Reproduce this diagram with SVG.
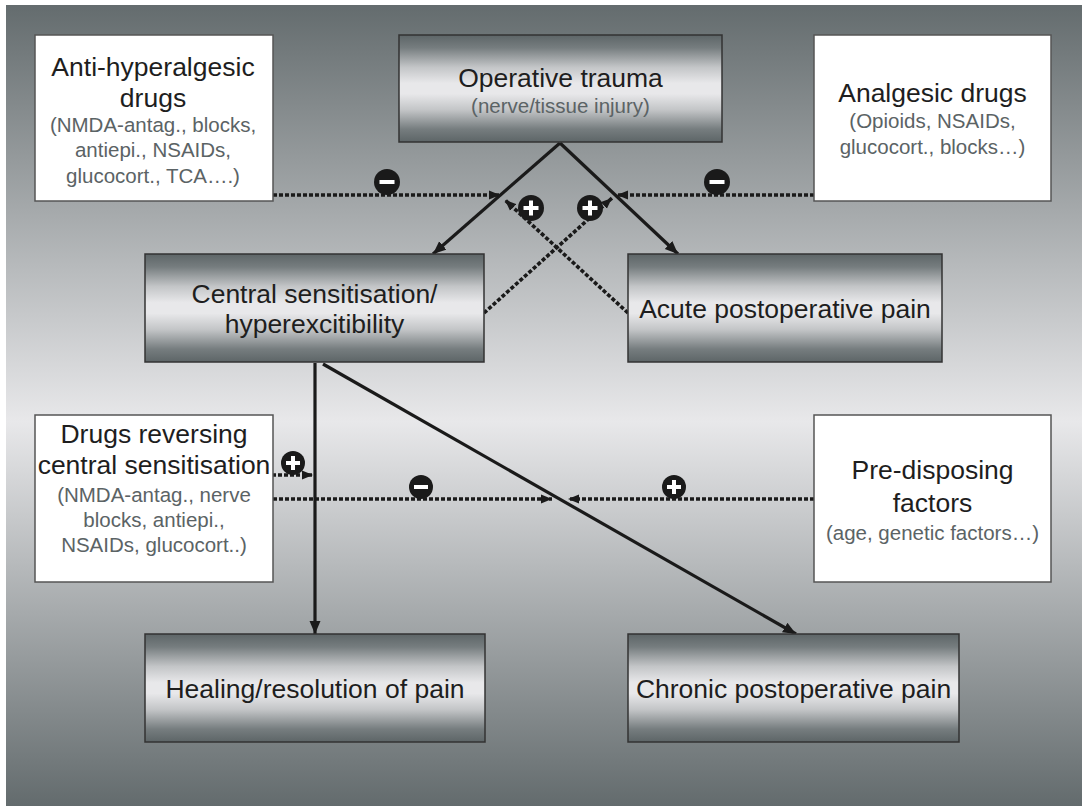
<svg xmlns="http://www.w3.org/2000/svg" width="1089" height="806" viewBox="0 0 1089 806">
<defs>
<linearGradient id="bg" x1="0" y1="0" x2="0" y2="1">
<stop offset="0" stop-color="#646c6e"/>
<stop offset="0.52" stop-color="#e8e8ea"/>
<stop offset="1" stop-color="#636b6d"/>
</linearGradient>
<linearGradient id="boxg" x1="0" y1="0" x2="0" y2="1">
<stop offset="0" stop-color="#5d6567"/>
<stop offset="0.12" stop-color="#767d7f"/>
<stop offset="0.3" stop-color="#c3c5c7"/>
<stop offset="0.45" stop-color="#e8e8ea"/>
<stop offset="0.55" stop-color="#e8e8ea"/>
<stop offset="0.7" stop-color="#c3c5c7"/>
<stop offset="0.88" stop-color="#767d7f"/>
<stop offset="1" stop-color="#5d6567"/>
</linearGradient>
<marker id="ah" markerUnits="userSpaceOnUse" markerWidth="14" markerHeight="12" refX="13" refY="6" orient="auto">
<path d="M0,0.5 L13,6 L0,11.5 z" fill="#1a1a1a"/>
</marker>
<marker id="ahd" markerUnits="userSpaceOnUse" markerWidth="12" markerHeight="10" refX="11" refY="5" orient="auto">
<path d="M0,0.5 L11,5 L0,9.5 z" fill="#1a1a1a"/>
</marker>
<style>
.grad{fill:url(#boxg);stroke:#333;stroke-width:1.5}
.white{fill:#fff;stroke:#555;stroke-width:1.5}
.main{font-family:"Liberation Sans",Arial,sans-serif;font-size:26.5px;fill:#1e1e1e;text-anchor:middle}
.sub{font-family:"Liberation Sans",Arial,sans-serif;font-size:20.5px;fill:#5b6365;text-anchor:middle}
.solid{stroke:#1a1a1a;stroke-width:3.2;fill:none;marker-end:url(#ah)}
.dot{stroke:#1a1a1a;stroke-width:3.6;fill:none;stroke-dasharray:4 2;marker-end:url(#ahd)}
.sign{fill:#1a1a1a}
.bar{fill:#fff}
</style>
</defs>
<rect x="6" y="5" width="1076" height="801" fill="url(#bg)"/>

<g id="connectors">
<line class="solid" x1="560" y1="143" x2="433" y2="254"/>
<line class="solid" x1="560" y1="143" x2="678" y2="254"/>
<line class="solid" x1="315" y1="363" x2="315" y2="634"/>
<line class="solid" x1="323" y1="364" x2="796" y2="634"/>
<line class="dot" x1="273" y1="195" x2="500" y2="195"/>
<line class="dot" x1="814" y1="195" x2="617" y2="195"/>
<line class="dot" x1="628" y1="313" x2="505" y2="200"/>
<line class="dot" x1="484" y1="313" x2="612" y2="198"/>
<line class="dot" x1="272" y1="475" x2="313" y2="475"/>
<line class="dot" x1="273" y1="499" x2="552" y2="499"/>
<line class="dot" x1="814" y1="499" x2="568" y2="499"/>
</g>

<g id="signs">
<g transform="translate(387,182)"><circle class="sign" r="13"/><rect class="bar" x="-7.5" y="-2" width="15" height="4"/></g>
<g transform="translate(717,182)"><circle class="sign" r="13"/><rect class="bar" x="-7.5" y="-2" width="15" height="4"/></g>
<g transform="translate(531,208)"><circle class="sign" r="13"/><rect class="bar" x="-7.5" y="-2" width="15" height="4"/><rect class="bar" x="-2" y="-7.5" width="4" height="15"/></g>
<g transform="translate(590,208)"><circle class="sign" r="13"/><rect class="bar" x="-7.5" y="-2" width="15" height="4"/><rect class="bar" x="-2" y="-7.5" width="4" height="15"/></g>
<g transform="translate(293,463)"><circle class="sign" r="12"/><rect class="bar" x="-7" y="-2" width="14" height="4"/><rect class="bar" x="-2" y="-7" width="4" height="14"/></g>
<g transform="translate(421,487)"><circle class="sign" r="12"/><rect class="bar" x="-7" y="-2" width="14" height="4"/></g>
<g transform="translate(674,487)"><circle class="sign" r="12"/><rect class="bar" x="-7" y="-2" width="14" height="4"/><rect class="bar" x="-2" y="-7" width="4" height="14"/></g>
</g>

<g id="n-anti">
<rect class="white" x="35" y="35" width="238" height="166"/>
<text class="main" x="153" y="76">Anti-hyperalgesic</text>
<text class="main" x="153" y="107">drugs</text>
<text class="sub" x="153" y="132">(NMDA-antag., blocks,</text>
<text class="sub" x="153" y="157">antiepi., NSAIDs,</text>
<text class="sub" x="153" y="183">glucocort., TCA….)</text>
</g>

<g id="n-trauma">
<rect class="grad" x="399" y="35" width="323" height="107"/>
<text class="main" x="560.5" y="87">Operative trauma</text>
<text class="sub" x="560.5" y="113">(nerve/tissue injury)</text>
</g>

<g id="n-analgesic">
<rect class="white" x="814" y="35" width="237" height="166"/>
<text class="main" x="932.5" y="102">Analgesic drugs</text>
<text class="sub" x="932.5" y="128">(Opioids, NSAIDs,</text>
<text class="sub" x="932.5" y="154">glucocort., blocks…)</text>
</g>

<g id="n-central">
<rect class="grad" x="145" y="254" width="339" height="108"/>
<text class="main" x="314.5" y="303">Central sensitisation/</text>
<text class="main" x="314.5" y="333">hyperexcitibility</text>
</g>

<g id="n-acute">
<rect class="grad" x="628" y="254" width="314" height="108"/>
<text class="main" x="785" y="318">Acute postoperative pain</text>
</g>

<g id="n-reversing">
<rect class="white" x="35" y="415" width="238" height="167"/>
<text class="main" x="154" y="443">Drugs reversing</text>
<text class="main" x="154" y="474">central sensitisation</text>
<text class="sub" x="154" y="502">(NMDA-antag., nerve</text>
<text class="sub" x="154" y="527">blocks, antiepi.,</text>
<text class="sub" x="154" y="552">NSAIDs, glucocort..)</text>
</g>

<g id="n-predisposing">
<rect class="white" x="814" y="415" width="237" height="167"/>
<text class="main" x="932.5" y="479">Pre-disposing</text>
<text class="main" x="932.5" y="512">factors</text>
<text class="sub" x="932.5" y="540">(age, genetic factors…)</text>
</g>

<g id="n-healing">
<rect class="grad" x="145" y="634" width="340" height="108"/>
<text class="main" x="315" y="698">Healing/resolution of pain</text>
</g>

<g id="n-chronic">
<rect class="grad" x="628" y="634" width="331" height="108"/>
<text class="main" x="793.5" y="698">Chronic postoperative pain</text>
</g>
</svg>
